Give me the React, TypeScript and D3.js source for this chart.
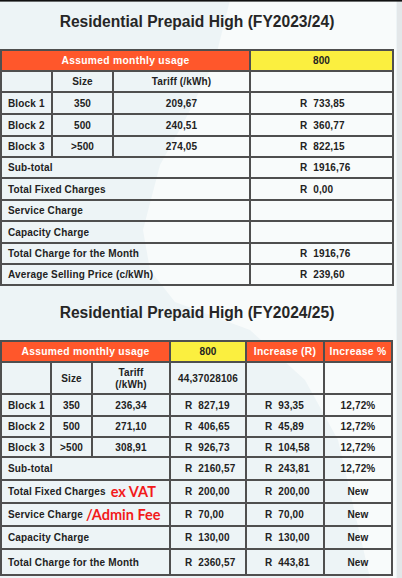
import { useEffect, useRef } from "react";
import * as d3 from "d3";

// FY2023/24 table
const blocks = ["Block 1", "Block 2", "Block 3"];
const sizes = ["350", "500", ">500"];
const tariff1 = ["209,67", "240,51", "274,05"];
const cost1 = ["R  733,85", "R  360,77", "R  822,15"];
const summaryLabels1 = [
  "Sub-total",
  "Total Fixed Charges",
  "Service Charge",
  "Capacity Charge",
  "Total Charge for the Month",
  "Average Selling Price (c/kWh)",
];
const summaryValues1 = ["R  1916,76", "R  0,00", "", "", "R  1916,76", "R  239,60"];

// FY2024/25 table
const tariff2 = ["236,34", "271,10", "308,91"];
const cost2 = ["R  827,19", "R  406,65", "R  926,73"];
const incR2 = ["R  93,35", "R  45,89", "R  104,58"];
const incPct2 = ["12,72%", "12,72%", "12,72%"];
const summaryLabels2 = [
  "Sub-total",
  "Total Fixed Charges",
  "Service Charge",
  "Capacity Charge",
  "Total Charge for the Month",
];
const summaryCost2 = ["R  2160,57", "R  200,00", "R  70,00", "R  130,00", "R  2360,57"];
const summaryInc2 = ["R  243,81", "R  200,00", "R  70,00", "R  130,00", "R  443,81"];
const summaryPct2 = ["12,72%", "New", "New", "New", "New"];
const notes2 = ["", "ex VAT", "/Admin Fee", "", ""];

const USAGE = "800";
const RATE = "44,37028106";

const W = 402, H = 578;
const FONT = "'Liberation Sans', Arial, sans-serif";
const ORANGE = "#ff572b";
const YELLOW = "#fbef3f";
const BORDER = "#4f4f4f";
const INK = "#222";

// layout grids (pixel edges)
const cols1 = [1, 52, 113, 250, 393];
const rows1 = [50, 71, 92, 114, 136, 157, 178, 200, 221, 243, 264, 285];
const cols2 = [1, 51, 92, 170, 246, 324, 392];
const rows2 = [341, 362, 394, 416, 437, 457, 480, 503, 526, 549, 575];

type Sel = d3.Selection<SVGGElement, unknown, null, undefined>;

function cell(g: Sel, x0: number, x1: number, y0: number, y1: number, fill = "none") {
  g.append("rect")
    .attr("x", x0).attr("y", y0).attr("width", x1 - x0).attr("height", y1 - y0)
    .attr("fill", fill).attr("stroke", BORDER).attr("stroke-width", 2);
}

function label(
  g: Sel, x: number, y: number, text: string,
  anchor: "start" | "middle" = "middle", color = INK, size = 10
) {
  return g.append("text")
    .attr("x", x).attr("y", y).attr("dy", "0.36em")
    .attr("text-anchor", anchor)
    .attr("font-family", FONT).attr("font-weight", 700)
    .attr("font-size", size).attr("fill", color)
    .attr("letter-spacing", 0.15)
    .style("white-space", "pre")
    .text(text);
}

export default function App() {
  const svgRef = useRef<SVGSVGElement | null>(null);

  useEffect(() => {
    if (!svgRef.current) return;
    const svg = d3.select(svgRef.current);
    svg.selectAll("*").remove();

    const root = svg.append("g") as Sel;

    // page background with the faint map shape
    root.append("rect").attr("width", W).attr("height", H).attr("fill", "#edf4f6");
    root.append("path")
      .attr("d", "M230,0 L396,0 L396,578 L370,578 L338,440 L305,380 L250,330 L175,302 L150,270 L143,230 L160,165 L185,120 L215,60 Z")
      .attr("fill", "#f8fbfb");
    root.append("rect").attr("x", 397).attr("width", 5).attr("height", H).attr("fill", "#e3e7e9");
    root.append("rect").attr("width", W).attr("height", 1.6).attr("fill", "#111");

    const mid = (a: number, b: number) => (a + b) / 2;

    // ---------- Table 1 ----------
    root.append("text")
      .attr("x", 197).attr("y", 27).attr("text-anchor", "middle")
      .attr("font-family", FONT).attr("font-weight", 700).attr("font-size", 15.6)
      .attr("fill", "#262626").text("Residential Prepaid High (FY2023/24)");

    const t1 = root.append("g") as Sel;
    const c = cols1, r = rows1;
    cell(t1, c[0], c[3], r[0], r[1], ORANGE);
    cell(t1, c[3], c[4], r[0], r[1], YELLOW);
    label(t1, mid(c[0], c[3]), mid(r[0], r[1]), "Assumed monthly usage", "middle", "#fff", 10.3)
      .attr("letter-spacing", 0.3);
    label(t1, mid(c[3], c[4]), mid(r[0], r[1]), USAGE);

    for (let i = 0; i < 4; i++) cell(t1, c[i], c[i + 1], r[1], r[2]);
    label(t1, mid(c[1], c[2]), mid(r[1], r[2]), "Size");
    label(t1, mid(c[2], c[3]), mid(r[1], r[2]), "Tariff (/kWh)");

    blocks.forEach((b, k) => {
      const y0 = r[2 + k], y1 = r[3 + k], ym = mid(y0, y1);
      for (let i = 0; i < 4; i++) cell(t1, c[i], c[i + 1], y0, y1);
      label(t1, 8, ym, b, "start");
      label(t1, mid(c[1], c[2]), ym, sizes[k]);
      label(t1, mid(c[2], c[3]), ym, tariff1[k]);
      label(t1, 300, ym, cost1[k], "start");
    });

    summaryLabels1.forEach((s, k) => {
      const y0 = r[5 + k], y1 = r[6 + k], ym = mid(y0, y1);
      cell(t1, c[0], c[3], y0, y1);
      cell(t1, c[3], c[4], y0, y1);
      label(t1, 8, ym, s, "start");
      if (summaryValues1[k]) label(t1, 300, ym, summaryValues1[k], "start");
    });

    // ---------- Table 2 ----------
    root.append("text")
      .attr("x", 197).attr("y", 318).attr("text-anchor", "middle")
      .attr("font-family", FONT).attr("font-weight", 700).attr("font-size", 15.6)
      .attr("fill", "#262626").text("Residential Prepaid High (FY2024/25)");

    const t2 = root.append("g") as Sel;
    const c2 = cols2, r2 = rows2;
    cell(t2, c2[0], c2[3], r2[0], r2[1], ORANGE);
    cell(t2, c2[3], c2[4], r2[0], r2[1], YELLOW);
    cell(t2, c2[4], c2[5], r2[0], r2[1], ORANGE);
    cell(t2, c2[5], c2[6], r2[0], r2[1], ORANGE);
    const hm = mid(r2[0], r2[1]);
    label(t2, mid(c2[0], c2[3]), hm, "Assumed monthly usage", "middle", "#fff", 10.3).attr("letter-spacing", 0.3);
    label(t2, mid(c2[3], c2[4]), hm, USAGE);
    label(t2, mid(c2[4], c2[5]), hm, "Increase (R)", "middle", "#fff", 10.3).attr("letter-spacing", 0.3);
    label(t2, mid(c2[5], c2[6]), hm, "Increase %", "middle", "#fff", 10.3).attr("letter-spacing", 0.3);

    for (let i = 0; i < 6; i++) cell(t2, c2[i], c2[i + 1], r2[1], r2[2]);
    const sm = mid(r2[1], r2[2]);
    label(t2, mid(c2[1], c2[2]), sm, "Size");
    label(t2, mid(c2[2], c2[3]), sm - 6, "Tariff");
    label(t2, mid(c2[2], c2[3]), sm + 6, "(/kWh)");
    label(t2, mid(c2[3], c2[4]), sm, RATE);

    blocks.forEach((b, k) => {
      const y0 = r2[2 + k], y1 = r2[3 + k], ym = mid(y0, y1);
      for (let i = 0; i < 6; i++) cell(t2, c2[i], c2[i + 1], y0, y1);
      label(t2, 8, ym, b, "start");
      label(t2, mid(c2[1], c2[2]), ym, sizes[k]);
      label(t2, mid(c2[2], c2[3]), ym, tariff2[k]);
      label(t2, 185, ym, cost2[k], "start");
      label(t2, 265, ym, incR2[k], "start");
      label(t2, mid(c2[5], c2[6]), ym, incPct2[k]);
    });

    summaryLabels2.forEach((s, k) => {
      const y0 = r2[5 + k], y1 = r2[6 + k], ym = mid(y0, y1);
      cell(t2, c2[0], c2[3], y0, y1);
      for (let i = 3; i < 6; i++) cell(t2, c2[i], c2[i + 1], y0, y1);
      const t = label(t2, 8, ym, s, "start");
      label(t2, 185, ym, summaryCost2[k], "start");
      label(t2, 265, ym, summaryInc2[k], "start");
      label(t2, mid(c2[5], c2[6]), ym, summaryPct2[k]);
      if (notes2[k]) {
        const len = (t.node() as SVGTextElement).getComputedTextLength();
        t2.append("text")
          .attr("x", 8 + len + (k === 1 ? 5 : 3)).attr("y", ym).attr("dy", "0.36em")
          .attr("font-family", "Lato, 'Open Sans', sans-serif").attr("font-weight", 700)
          .attr("font-size", 14.5).attr("fill", "#f21a1a")
          .text(notes2[k]);
      }
    });
  }, []);

  return (
    <svg
      ref={svgRef}
      width={W}
      height={H}
      style={{ position: "absolute", left: 0, top: 0, display: "block" }}
    />
  );
}
